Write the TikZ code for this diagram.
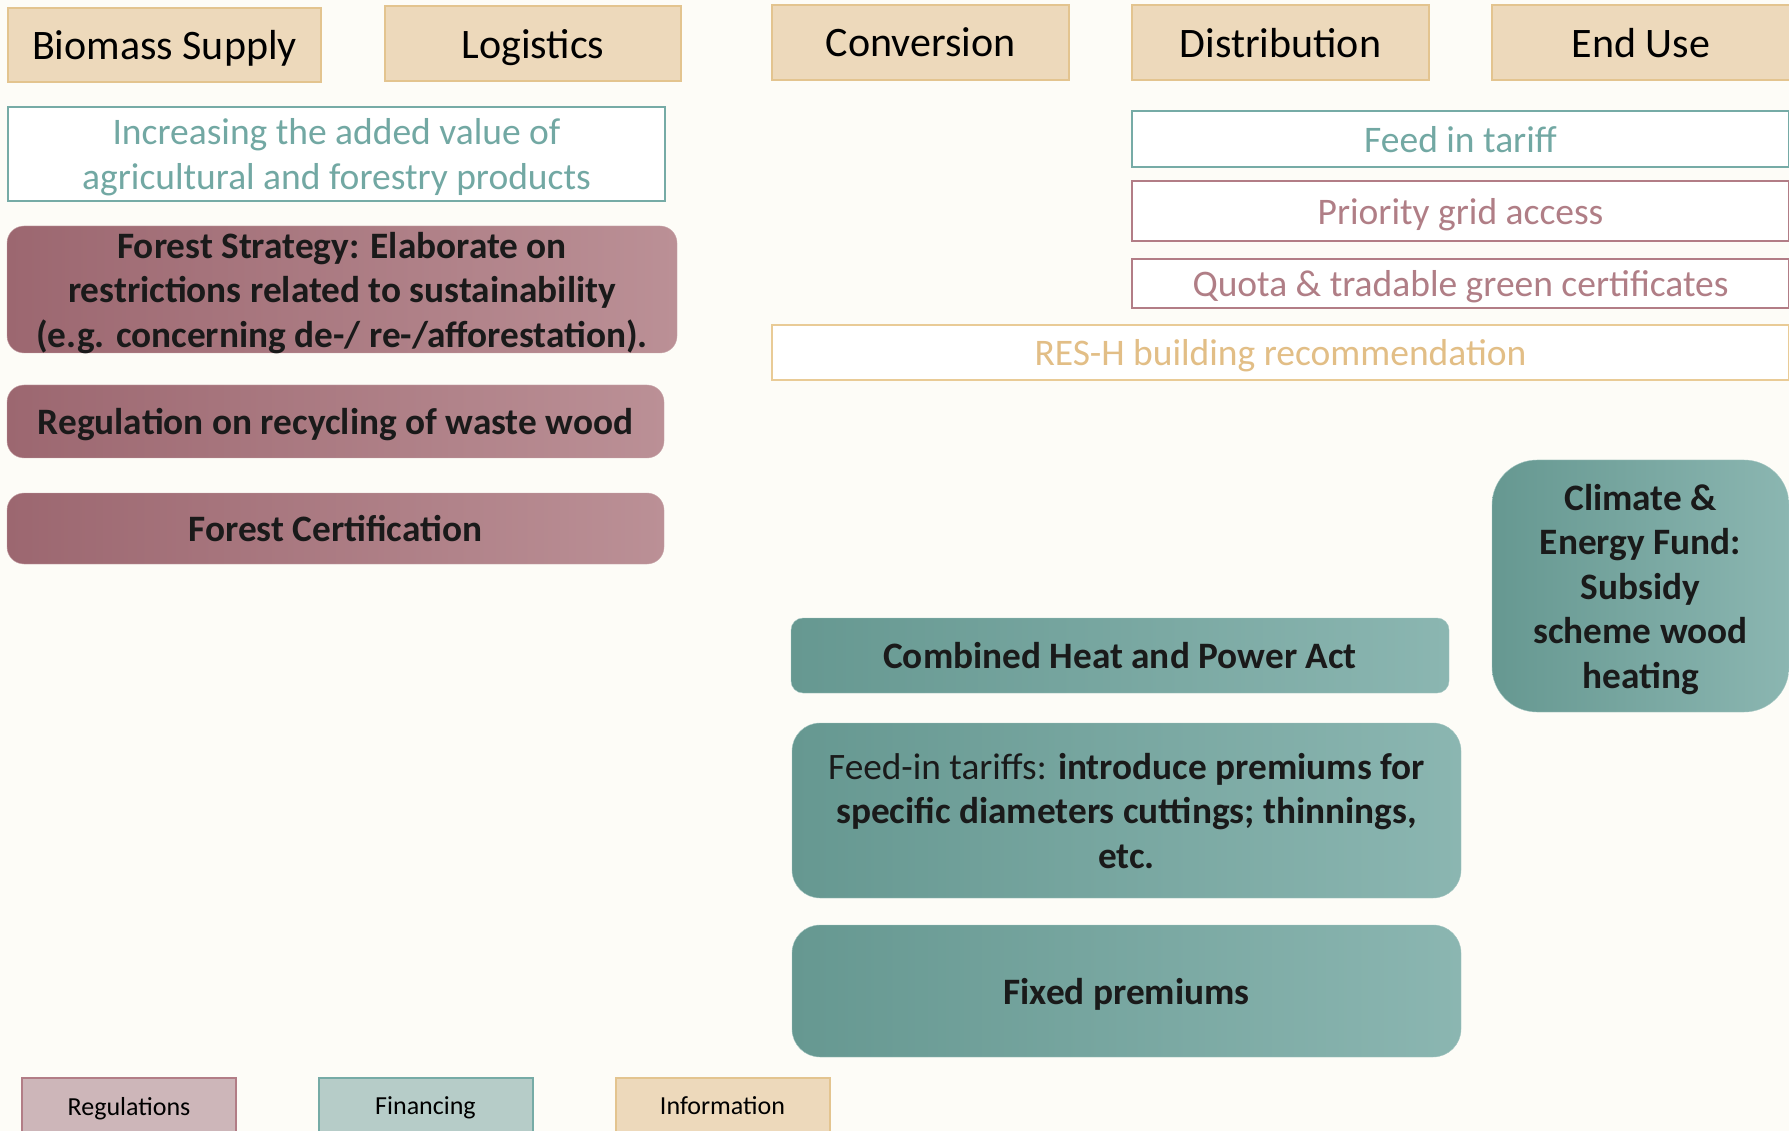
\documentclass[tikz,border=0pt]{standalone}
\usepackage{fontspec}
\setmainfont{Carlito}
\definecolor{bgcream}{HTML}{FDFCF7}
\definecolor{infofill}{HTML}{EDD9BB}
\definecolor{infoline}{HTML}{E3C48F}
\definecolor{tealline}{HTML}{76ABA6}
\definecolor{tealtext}{HTML}{72A8A3}
\definecolor{mauveline}{HTML}{B27D86}
\definecolor{mauvetext}{HTML}{B07E86}
\definecolor{tanline}{HTML}{E9CB96}
\definecolor{tantext}{HTML}{E2BE86}
\definecolor{regleft}{HTML}{9C6770}
\definecolor{regright}{HTML}{BB9096}
\definecolor{finleft}{HTML}{669891}
\definecolor{finright}{HTML}{8BB6B1}
\definecolor{legreg}{HTML}{CDB6B9}
\definecolor{legfin}{HTML}{B6CCC8}
\definecolor{darktext}{HTML}{1A1A1A}
\begin{document}
\begin{tikzpicture}[x=1pt,y=-1pt,
  every node/.style={text depth=0pt},
  header/.style={draw=infoline,fill=infofill,line width=2pt,inner sep=0pt,
    font=\fontsize{42}{50}\selectfont},
  outline/.style={fill=white,line width=2pt,inner sep=0pt,align=center,
    font=\fontsize{37.5}{44.5}\selectfont},
  regbox/.style={left color=regleft,right color=regright,draw=regright!80!white,
    rounded corners=17pt,inner sep=0pt,align=center,text=darktext,
    font=\fontsize{37.3}{44.5}\selectfont\bfseries},
  finbox/.style={left color=finleft,right color=finright,draw=finright!80!white,
    rounded corners=28pt,inner sep=0pt,align=center,text=darktext,
    font=\fontsize{37.3}{44.5}\selectfont\bfseries},
  legend/.style={line width=2pt,inner sep=0pt,minimum width=214,minimum height=56,
    font=\fontsize{26}{30}\selectfont}]
\useasboundingbox[fill=bgcream] (0,0) rectangle (1789,1131);

% column headers
\node[header,minimum width=313,minimum height=74] (supply) at (164.5,45) {Biomass Supply};
\node[header,minimum width=296,minimum height=75] (logist) at (533,43.5) {Logistics};
\node[header,minimum width=297,minimum height=75] (convers) at (920.5,42.5) {Conversion};
\node[header,minimum width=297,minimum height=75] (distrib) at (1280.5,42.5) {Distribution};
\node[header,minimum width=298,minimum height=75] (enduse) at (1641,42.5) {End Use};

% information and outline measures
\node[outline,draw=tealline,text=tealtext,minimum width=657,minimum height=94] (addval) at (336.5,154)
  {Increasing the added value of\\agricultural and forestry products};
\node[outline,draw=tealline,text=tealtext,minimum width=657,minimum height=56] (feedin) at (1460.5,139) {Feed in tariff};
\node[outline,draw=mauveline,text=mauvetext,minimum width=657,minimum height=60] (priority) at (1460.5,211) {Priority grid access};
\node[outline,draw=mauveline,text=mauvetext,minimum width=657,minimum height=49] (quota) at (1460.5,283.5) {Quota \& tradable green certificates};
\node[outline,draw=tanline,text=tantext,minimum width=1017,minimum height=55] (resh) at (1280.5,352.5) {RES-H building recommendation};

% regulations
\node[regbox,minimum width=670,minimum height=127] (strategy) at (342,289.5)
  {Forest Strategy: Elaborate on\\restrictions related to sustainability\\(e.g. concerning de-/ re-/afforestation).};
\node[regbox,minimum width=657,minimum height=73] (recycling) at (335.5,421.5) {Regulation on recycling of waste wood};
\node[regbox,minimum width=657,minimum height=71] (certif) at (335.5,528.5) {Forest Certification};

% financing
\node[finbox,rounded corners=45pt,minimum width=297,minimum height=252] (fund) at (1640.5,586)
  {Climate \&\\Energy Fund:\\Subsidy\\scheme wood\\heating};
\node[finbox,rounded corners=12pt,minimum width=658,minimum height=75] (chp) at (1120,655.5) {Combined Heat and Power Act};
\node[finbox,minimum width=669,minimum height=175] (tariffs) at (1126.5,810.5)
  {{\mdseries Feed-in tariffs:} introduce premiums for\\specific diameters cuttings; thinnings,\\etc.};
\node[finbox,minimum width=669,minimum height=132] (fixed) at (1126.5,991) {Fixed premiums};

% legend
\node[legend,draw=mauveline,fill=legreg] (legregul) at (129,1106) {Regulations};
\node[legend,draw=tealline,fill=legfin] (legfinan) at (425.5,1106) {Financing};
\node[legend,draw=infoline,fill=infofill] (leginfo) at (722.5,1106) {Information};
\end{tikzpicture}
\end{document}
